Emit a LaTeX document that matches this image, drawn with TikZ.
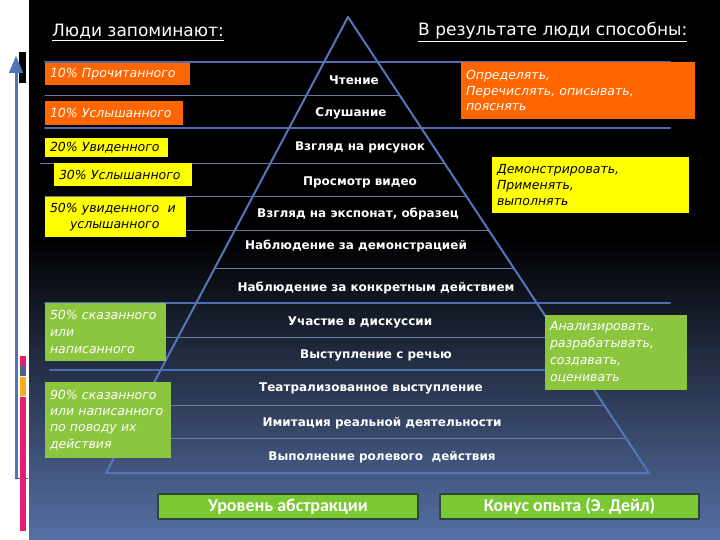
\documentclass[tikz,border=0pt]{standalone}
\usepackage{fontspec}
\setmainfont{Liberation Sans}
\newfontfamily\rungfont{DejaVu Sans}
\newfontfamily\capfont{Carlito}
\usetikzlibrary{arrows}
\definecolor{pyrblue}{RGB}{84,118,186}
\definecolor{rulebl}{RGB}{78,108,176}
\definecolor{rulegray}{RGB}{105,125,165}
\definecolor{boxorange}{RGB}{255,102,0}
\definecolor{boxyellow}{RGB}{255,255,0}
\definecolor{boxgreen}{RGB}{140,198,63}
\definecolor{taggreen}{RGB}{122,200,52}
\definecolor{tagedge}{RGB}{45,70,60}
\definecolor{bgmid}{RGB}{28,38,62}
\definecolor{bgblue}{RGB}{86,112,165}
\definecolor{arrowblue}{RGB}{79,116,184}
\definecolor{barpink}{RGB}{228,30,112}
\definecolor{bargray}{RGB}{80,96,130}
\definecolor{barorange}{RGB}{248,172,32}

\tikzset{
  rung/.style={text=white,font=\rungfont\bfseries\fontsize{12}{14}\selectfont,inner sep=0pt},
  head/.style={text=white,font=\rungfont\fontsize{17}{20}\selectfont,anchor=west,inner sep=0pt},
  memo/.style={anchor=north west,inner xsep=5pt,inner ysep=0pt,outer sep=0pt,align=left,
    font=\rungfont\itshape\fontsize{12.5}{15.5}\selectfont},
  tag/.style={fill=taggreen,draw=tagedge,line width=2pt,text=white,anchor=north west,
    font=\capfont\bfseries\fontsize{18}{21}\selectfont,minimum height=25,inner sep=0pt},
  boldrule/.style={line width=2pt,color=rulebl},
  thinrule/.style={line width=0.8pt,color=rulegray},
}

\begin{document}
\begin{tikzpicture}[line cap=round,line join=round,>=triangle 45,x=1pt,y=-1pt]
\useasboundingbox (0,0) rectangle (720,540);
% slide background
\fill[white] (0,0) rectangle (29,540);
\fill[black] (29,0) rectangle (720,540);
\shade[top color=black,middle color=bgmid,bottom color=bgblue] (29,240) rectangle (720,540);
% left strip
\fill[black] (19,52) rectangle (26,83);
\draw [line width=3pt,color=arrowblue,->] (16,478)-- (16,56);
\draw [line width=0.8pt,color=bargray] (15,478)-- (28,478);
\fill[barpink] (20,356) rectangle (26,366);
\fill[bargray] (20,366) rectangle (26,376);
\fill[barorange] (20,377) rectangle (26,396);
\fill[barpink] (20,397) rectangle (26,531);
% rules
\draw [boldrule] (45,62)-- (670,62);
\draw [thinrule] (45,95)-- (399.5,95);
\draw [boldrule] (45,128)-- (670,128);
\draw [thinrule] (40,163)-- (444,163);
\draw [thinrule] (45,196)-- (466,196);
\draw [thinrule] (45,230)-- (488.6,230);
\draw [thinrule] (215,268)-- (513.7,268);
\draw [boldrule] (45,303)-- (670,303);
\draw [thinrule] (45,337)-- (559,337);
\draw [boldrule] (50,370)-- (670,370);
\draw [thinrule] (45,405)-- (604,405);
\draw [thinrule] (45,438)-- (626,438);
% cone
\coordinate (apex) at (348,17);
\coordinate (bl) at (106,473);
\coordinate (br) at (649,473);
\draw [line width=2pt,color=pyrblue] (apex)-- (br)-- (bl)-- cycle;
% headings
\node[head] (remember) at (52,32) {\underline{Люди запоминают:}};
\node[head] (able) at (418,32) {\underline{В результате люди способны:}};
% cone rungs
\node[rung] (r1) at (354,80) {Чтение};
\node[rung] (r2) at (351,113) {Слушание};
\node[rung] (r3) at (360,147) {Взгляд на рисунок};
\node[rung] (r4) at (360,182) {Просмотр видео};
\node[rung] (r5) at (358,214) {Взгляд на экспонат, образец};
\node[rung] (r6) at (356,246) {Наблюдение за демонстрацией};
\node[rung] (r7) at (376,288) {Наблюдение за конкретным действием};
\node[rung] (r8) at (360,322) {Участие в дискуссии};
\node[rung] (r9) at (376,355) {Выступление с речью};
\node[rung] (r10) at (371,388) {Театрализованное выступление};
\node[rung] (r11) at (382,423) {Имитация реальной деятельности};
\node[rung] (r12) at (382,457) {Выполнение ролевого\ \ действия};
% left boxes
\node[memo,fill=boxorange,text=white,text width=135,minimum height=22] (read) at (45,63) {10\% Прочитанного};
\node[memo,fill=boxorange,text=white,text width=128,minimum height=24] (heard) at (45,101) {10\% Услышанного};
\node[memo,fill=boxyellow,text=black,text width=113,minimum height=19] (seen) at (45,138) {20\% Увиденного};
\node[memo,fill=boxyellow,text=black,text width=128,minimum height=23] (heard2) at (54,163) {30\% Услышанного};
\node[memo,fill=boxyellow,text=black,text width=131,minimum height=40] (both) at (45,197) {50\% увиденного\ \ и\\\hspace*{20pt}услышанного};
\node[memo,fill=boxgreen,text=white,text width=111,minimum height=58,font=\rungfont\itshape\fontsize{12.5}{17}\selectfont] (said) at (45,303) {50\% сказанного\\или\\написанного};
\node[memo,fill=boxgreen,text=white,text width=116,minimum height=76,font=\rungfont\itshape\fontsize{12.5}{16.3}\selectfont] (did) at (45,382) {90\% сказанного\\или написанного\\по поводу их\\действия};
% right boxes
\node[memo,fill=boxorange,text=white,text width=224,minimum height=57] (define) at (461,62) {Определять,\\Перечислять, описывать,\\пояснять};
\node[memo,fill=boxyellow,text=black,text width=187,minimum height=56,font=\rungfont\itshape\fontsize{12.5}{16}\selectfont] (show) at (492,157) {Демонстрировать,\\Применять,\\выполнять};
\node[memo,fill=boxgreen,text=white,text width=132,minimum height=75,font=\rungfont\itshape\fontsize{12.5}{17}\selectfont] (judge) at (545,315) {Анализировать,\\разрабатывать,\\создавать,\\оценивать};
% bottom captions
\node[tag,minimum width=260] (abstr) at (157,493) {Уровень абстракции};
\node[tag,minimum width=259] (dale) at (439,493) {Конус опыта (Э. Дейл)};
\end{tikzpicture}
\end{document}
